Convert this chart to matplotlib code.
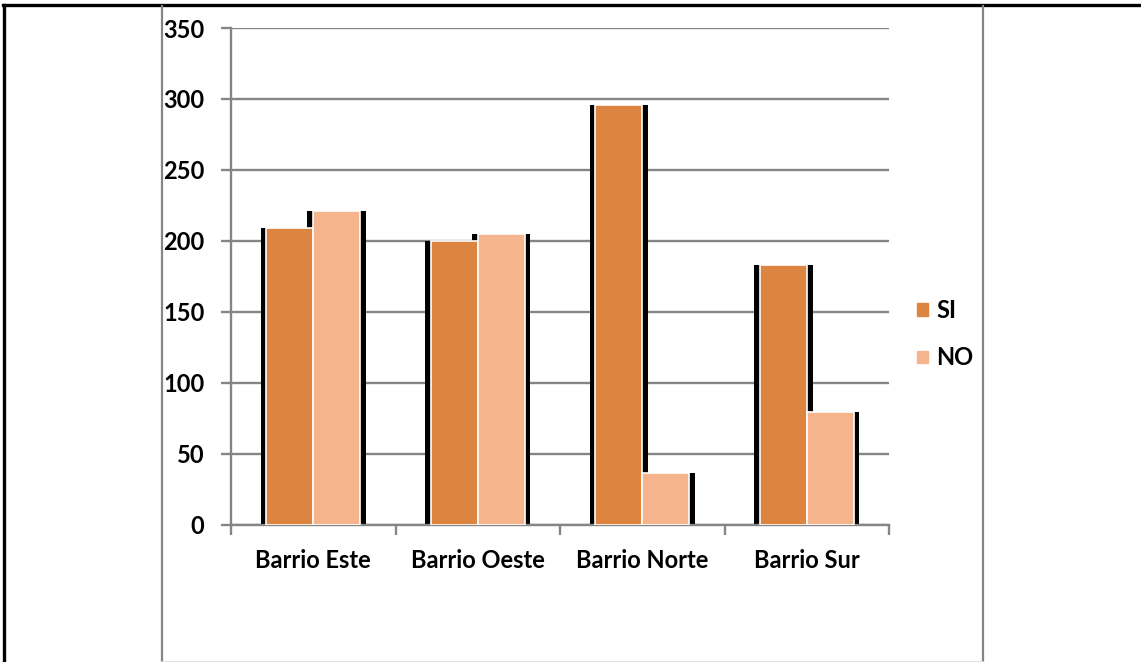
import numpy as np
import matplotlib
matplotlib.use("Agg")
import matplotlib.pyplot as plt
from matplotlib.lines import Line2D
from matplotlib.patches import Patch

# datos
barrios = ["Barrio Este", "Barrio Oeste", "Barrio Norte", "Barrio Sur"]
si = [209, 200, 296, 183]
no = [221, 205, 36, 79]
series = ["SI", "NO"]
colores = ["#DC8440", "#F5B48C"]
yticks = [0, 50, 100, 150, 200, 250, 300, 350]

plt.rcParams['font.family'] = ['Lato', 'DejaVu Sans']
gris = "#858585"

fig = plt.figure(figsize=(11.41, 6.62), dpi=100)
ax = fig.add_axes([231/1141, 1-524.5/662, (889-231)/1141, (524.5-28)/662])

x = np.arange(len(barrios))
w = 0.285
# sombra negra detras de cada barra
for off, vals in [(-w/2, si), (w/2, no)]:
    ax.bar(x+off, vals, w+0.07, color="black", zorder=2)
ax.bar(x-w/2, si, w, color=colores[0], edgecolor="white", linewidth=1.2, zorder=3)
ax.bar(x+w/2, no, w, color=colores[1], edgecolor="white", linewidth=1.2, zorder=3)

ax.set_xlim(-0.5, len(barrios)-0.5)
ax.set_ylim(0, 350)
ax.set_yticks(yticks)
ax.set_yticklabels([str(v) for v in yticks], fontsize=17, fontweight='bold')
ax.yaxis.grid(True, color=gris, linewidth=1.7, zorder=0)
ax.set_axisbelow(True)

ax.set_xticks(np.arange(len(barrios)+1)-0.5)
ax.set_xticklabels([])
ax.set_xticks(x, minor=True)
ax.set_xticklabels(barrios, minor=True, fontsize=17, fontweight='bold')
ax.tick_params(axis='x', which='major', length=7, width=1.7, color=gris, direction='out')
ax.tick_params(axis='x', which='minor', length=0, pad=18)
ax.tick_params(axis='y', length=7, width=1.7, color=gris, pad=12)

for s in ["top", "right"]:
    ax.spines[s].set_visible(False)
for s in ["left", "bottom"]:
    ax.spines[s].set_color(gris)
    ax.spines[s].set_linewidth(1.7)

handles = [Patch(color=colores[0], label=series[0]), Patch(color=colores[1], label=series[1])]
fig.legend(handles=handles, loc="center left", bbox_to_anchor=(896/1141, 1-334/662),
           frameon=False, prop={'weight': 'bold', 'size': 17},
           handlelength=0.45, handleheight=0.45, handletextpad=0.35, labelspacing=1.05)

# marco
fig.add_artist(Line2D([3/1141, 1], [1-5/662, 1-5/662], color="black", linewidth=2.4))
fig.add_artist(Line2D([4/1141, 4/1141], [0, 1-5/662], color="black", linewidth=2.4))
for xp in [162, 983]:
    fig.add_artist(Line2D([xp/1141, xp/1141], [0, 1-6/662], color=gris, linewidth=1.6))
fig.add_artist(Line2D([162/1141, 983/1141], [0.5/662, 0.5/662], color="#dddddd", linewidth=1.2))

fig.savefig("out.png", dpi=100)
